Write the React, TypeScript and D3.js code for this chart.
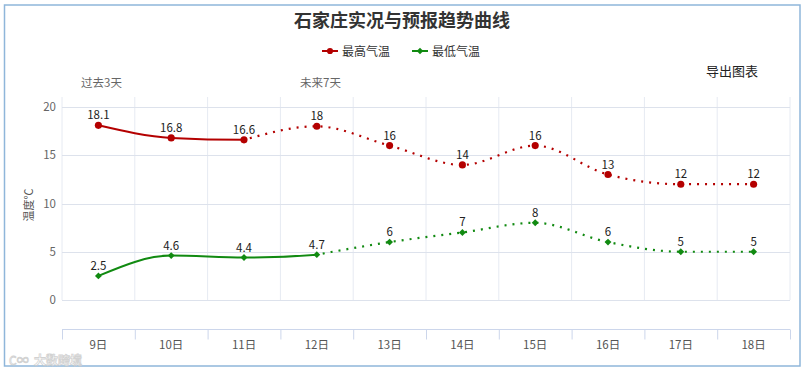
import React, { useEffect, useRef } from "react";
import * as d3 from "d3";

// categories and series values
const days = ["9日", "10日", "11日", "12日", "13日", "14日", "15日", "16日", "17日", "18日"];
const maxTemp = [18.1, 16.8, 16.6, 18, 16, 14, 16, 13, 12, 12];
const minTemp = [2.5, 4.6, 4.4, 4.7, 6, 7, 8, 6, 5, 5];
// index where each series turns from observed (solid) to forecast (dotted)
const maxSplit = 2;
const minSplit = 3;
const yTicks = [0, 5, 10, 15, 20];

const W = 805;
const H = 371;
const FONT = '"Noto Sans CJK SC", "Noto Sans", sans-serif';

const App = () => {
  const ref = useRef<SVGSVGElement>(null);

  useEffect(() => {
    const svg = d3.select(ref.current);
    svg.selectAll("*").remove();

    const left = 62;
    const right = 790;
    const gridTop = 97;

    const x = d3.scaleBand().domain(days).range([left, right]);
    const y = d3.scaleLinear().domain([0, 20]).range([300, 107]);
    const cx = (i: number) => (x(days[i]) as number) + x.bandwidth() / 2;

    // outer frame
    svg
      .append("rect")
      .attr("x", 4.5)
      .attr("y", 5)
      .attr("width", 795.5)
      .attr("height", 361)
      .attr("fill", "#fff")
      .attr("stroke", "#8fb6da")
      .attr("stroke-width", 1.5);

    // title
    svg
      .append("text")
      .attr("x", 402)
      .attr("y", 27)
      .attr("text-anchor", "middle")
      .attr("font-size", 18)
      .attr("font-weight", "bold")
      .attr("fill", "#333")
      .text("石家庄实况与预报趋势曲线");

    // legend
    const legend = [
      { name: "最高气温", color: "#b40000", x: 322, shape: "circle" },
      { name: "最低气温", color: "#118a11", x: 412, shape: "diamond" },
    ];
    legend.forEach((l) => {
      const g = svg.append("g");
      g.append("line")
        .attr("x1", l.x)
        .attr("x2", l.x + 16)
        .attr("y1", 51)
        .attr("y2", 51)
        .attr("stroke", l.color)
        .attr("stroke-width", 2);
      g.append("path")
        .attr("transform", `translate(${l.x + 8},51)`)
        .attr(
          "d",
          l.shape === "circle"
            ? d3.symbol(d3.symbolCircle, 30)()
            : d3.symbol(d3.symbolDiamond2, 28)()
        )
        .attr("fill", l.color);
      g.append("text")
        .attr("x", l.x + 20)
        .attr("y", 55.5)
        .attr("font-size", 12)
        .attr("fill", "#333")
        .text(l.name);
    });

    // labels above the plot
    svg.append("text").attr("x", 81).attr("y", 87).attr("font-size", 11.5).attr("fill", "#666").text("过去3天");
    svg.append("text").attr("x", 300).attr("y", 87).attr("font-size", 11.5).attr("fill", "#666").text("未来7天");
    svg.append("text").attr("x", 706).attr("y", 76).attr("font-size", 13).attr("fill", "#222").text("导出图表");

    // vertical grid lines at band edges
    const edges = days.map((d) => x(d) as number).concat([right]);
    svg
      .append("g")
      .selectAll("line")
      .data(edges)
      .join("line")
      .attr("x1", (d) => d)
      .attr("x2", (d) => d)
      .attr("y1", gridTop)
      .attr("y2", 300)
      .attr("stroke", "#e6eaf2")
      .attr("stroke-width", 1);

    // horizontal grid + y labels
    const yAxis = svg.append("g");
    yAxis
      .selectAll("line")
      .data(yTicks)
      .join("line")
      .attr("x1", left)
      .attr("x2", right)
      .attr("y1", (d) => Math.round(y(d)) + 0.5)
      .attr("y2", (d) => Math.round(y(d)) + 0.5)
      .attr("stroke", "#dde2ec");
    yAxis
      .selectAll("text")
      .data(yTicks)
      .join("text")
      .attr("x", 56)
      .attr("y", (d) => y(d) + 4)
      .attr("text-anchor", "end")
      .attr("font-size", 11.5)
      .attr("fill", "#666")
      .text((d) => d);

    svg
      .append("text")
      .attr("transform", "translate(33,205) rotate(-90)")
      .attr("text-anchor", "middle")
      .attr("font-size", 11)
      .attr("fill", "#555")
      .text("温度℃");

    // x axis below
    const xg = svg.append("g").attr("transform", "translate(0,329.5)");
    xg.call(d3.axisBottom(x).tickSize(0).tickPadding(0))
      .call((g) => g.select(".domain").remove())
      .call((g) => g.selectAll(".tick line").remove())
      .call((g) =>
        g
          .selectAll(".tick text")
          .attr("y", 19)
          .attr("dy", 0)
          .attr("font-size", 11.5)
          .attr("font-family", FONT)
          .attr("fill", "#555")
      );
    xg.append("line").attr("x1", left).attr("x2", right).attr("stroke", "#ccd6eb");
    xg.selectAll("line.tk")
      .data(edges)
      .join("line")
      .attr("class", "tk")
      .attr("x1", (d) => d + 0.5)
      .attr("x2", (d) => d + 0.5)
      .attr("y1", 0)
      .attr("y2", 10)
      .attr("stroke", "#ccd6eb");

    // series
    const series = [
      { values: maxTemp, split: maxSplit, color: "#b40000", shape: "circle" },
      { values: minTemp, split: minSplit, color: "#118a11", shape: "diamond" },
    ];
    const defs = svg.append("defs");
    series.forEach((s, si) => {
      const line = d3
        .line<number>()
        .x((_, i) => cx(i))
        .y((d) => y(d))
        .curve(d3.curveMonotoneX);
      const sx = cx(s.split);
      defs
        .append("clipPath")
        .attr("id", `solid${si}`)
        .append("rect")
        .attr("x", 0)
        .attr("y", 0)
        .attr("width", sx)
        .attr("height", H);

      svg
        .append("path")
        .datum(s.values)
        .attr("d", line)
        .attr("fill", "none")
        .attr("stroke", s.color)
        .attr("stroke-width", 2)
        .attr("clip-path", `url(#solid${si})`);

      // dotted forecast part drawn from the split point only
      const tail = s.values.slice(s.split);
      const tailLine = d3
        .line<number>()
        .x((_, i) => cx(i + s.split))
        .y((d) => y(d))
        .curve(d3.curveMonotoneX);
      svg
        .append("path")
        .datum(tail)
        .attr("d", tailLine)
        .attr("fill", "none")
        .attr("stroke", s.color)
        .attr("stroke-width", 2.2)
        .attr("stroke-dasharray", "2,6")
        .attr("stroke-dashoffset", -6);

      svg
        .append("g")
        .selectAll("path")
        .data(s.values)
        .join("path")
        .attr("transform", (d, i) => `translate(${cx(i)},${y(d)})`)
        .attr(
          "d",
          s.shape === "circle"
            ? d3.symbol(d3.symbolCircle, 40)()
            : d3.symbol(d3.symbolDiamond2, 30)()
        )
        .attr("fill", s.color);

      svg
        .append("g")
        .selectAll("text")
        .data(s.values)
        .join("text")
        .attr("x", (_, i) => cx(i))
        .attr("y", (d) => y(d) - 6)
        .attr("text-anchor", "middle")
        .attr("font-size", 11.5)
        .attr("fill", "#222")
        .text((d) => d);
    });

    // faint watermark, kept below the axis labels
    svg
      .append("text")
      .attr("x", 34)
      .attr("y", 365)
      .attr("font-size", 12)
      .attr("font-weight", "bold")
      .attr("fill", "#fff")
      .attr("stroke", "#c8c8c8")
      .attr("stroke-width", 0.8)
      .attr("opacity", 0.8)
      .text("大数跨境");
    svg
      .append("text")
      .attr("x", 9)
      .attr("y", 365)
      .attr("font-size", 12)
      .attr("fill", "#fff")
      .attr("stroke", "#c8c8c8")
      .attr("stroke-width", 0.8)
      .attr("opacity", 0.8)
      .text("C∞");
  }, []);

  return (
    <svg
      ref={ref}
      width={W}
      height={H}
      style={{ position: "absolute", left: 0, top: 0, fontFamily: FONT }}
    />
  );
};

export default App;
